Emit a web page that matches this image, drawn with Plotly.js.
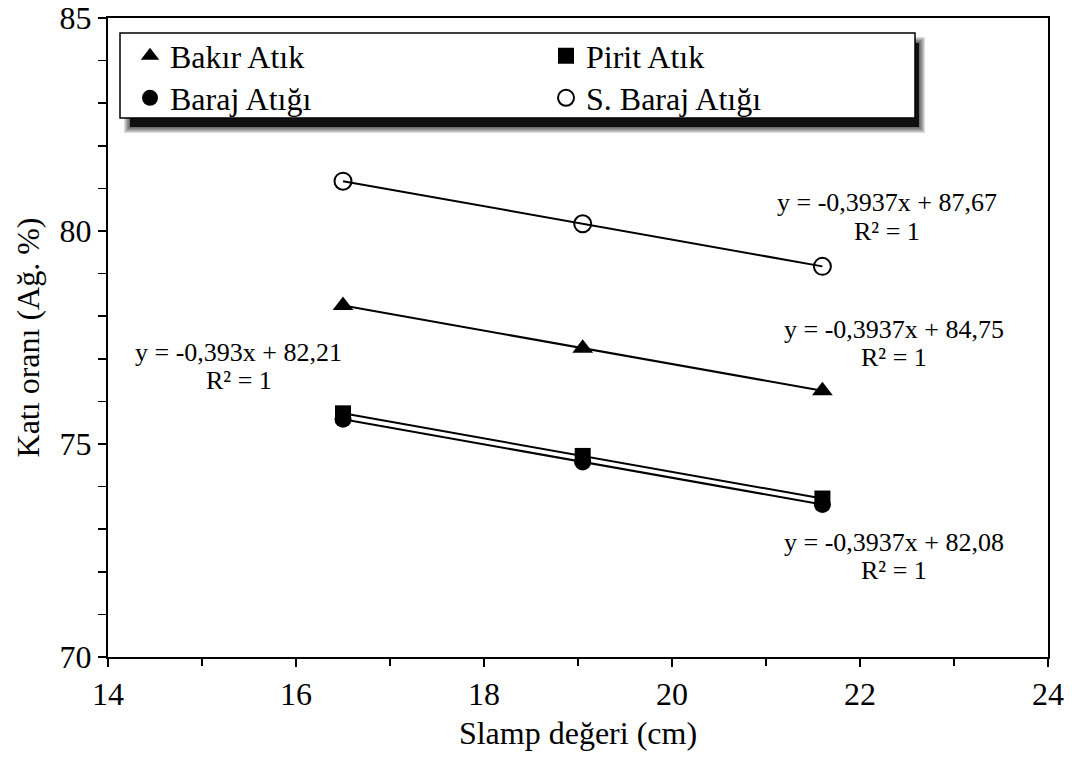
<!DOCTYPE html>
<html>
<head>
<meta charset="utf-8">
<script src="https://cdn.plot.ly/plotly-3.0.1.min.js"></script>
<style>html,body{margin:0;padding:0;background:#fff;}#chart{width:1072px;height:758px;}</style>
</head>
<body>
<div id="chart"></div>
<script>
var slump = [16.5, 19.05, 21.6];
var bakirAtik = [78.25, 77.25, 76.25];
var piritAtik = [75.72, 74.72, 73.72];
var barajAtigi = [75.58, 74.58, 73.58];
var sBarajAtigi = [81.17, 80.17, 79.17];
var seriesNames = ["Bakır Atık", "Pirit Atık", "Baraj Atığı", "S. Baraj Atığı"];
var eqLines = ["y = -0,3937x + 87,67", "y = -0,3937x + 84,75", "y = -0,393x + 82,21", "y = -0,3937x + 82,08"];
var r2Text = "R² = 1";
var xTickVals = [14, 16, 18, 20, 22, 24];
var yTickVals = [70, 75, 80, 85];

var W = 1072, H = 758, mL = 108, mR = 24, mT = 18, mB = 101;
var pw = W - mL - mR, ph = H - mT - mB;
function px(x){ return (x - mL) / pw; }
function py(y){ return 1 - (y - mT) / ph; }

var FONT = "Liberation Serif";
var tickFont = {family: FONT, size: 32, color: "#000"};
var lineStyle = {color: "#000", width: 2};

var seriesY = [bakirAtik, piritAtik, barajAtigi, sBarajAtigi];
var markers = [
  {symbol: "triangle-up", size: 18, color: "#000"},
  {symbol: "square", size: 16, color: "#000"},
  {symbol: "circle", size: 17, color: "#000"},
  {symbol: "circle-open", size: 17, color: "#000", line: {width: 2, color: "#000"}}
];
var legendIds = ["legend", "legend", "legend2", "legend2"];

var traces = [];
seriesY.forEach(function(ys, i){
  traces.push({x: slump, y: ys, mode: "lines", line: lineStyle, showlegend: false, hoverinfo: "skip"});
});
seriesY.forEach(function(ys, i){
  traces.push({x: slump, y: ys, name: seriesNames[i], mode: "markers", marker: markers[i], legend: legendIds[i]});
});

// legend box with soft shadow
var bx0 = 120, bx1 = 915, by0 = 33, by1 = 118;
var shapes = [];
for (var i = 6; i >= 1; i--) {
  shapes.push({type: "rect", xref: "paper", yref: "paper", layer: "above",
    x0: px(bx0 + 10 - i), x1: px(bx1 + 4 + i), y0: py(by1 + 9 + i), y1: py(by0 + 10 - i),
    fillcolor: "rgba(0,0,0,0.13)", line: {width: 0}});
}
shapes.push({type: "rect", xref: "paper", yref: "paper", layer: "above",
  x0: px(bx0 + 10), x1: px(bx1 + 4), y0: py(by1 + 9), y1: py(by0 + 10),
  fillcolor: "rgba(0,0,0,0.85)", line: {width: 0}});
shapes.push({type: "rect", xref: "paper", yref: "paper", layer: "above",
  x0: px(bx0), x1: px(bx1), y0: py(by1), y1: py(by0),
  fillcolor: "#fff", line: {color: "#000", width: 1.5}});

var annFont = {family: FONT, size: 26, color: "#000"};
var eqPos = [
  {x: 22.29, y1: 80.68, y2: 80.00},
  {x: 22.36, y1: 77.68, y2: 77.02},
  {x: 15.39, y1: 77.14, y2: 76.48},
  {x: 22.36, y1: 72.68, y2: 72.02}
];
var annotations = [];
eqPos.forEach(function(p, i){
  annotations.push({xref: "x", yref: "y", x: p.x, y: p.y1, text: eqLines[i], showarrow: false, font: annFont});
  annotations.push({xref: "x", yref: "y", x: p.x, y: p.y2, text: r2Text, showarrow: false, font: annFont});
});

var legendBase = {orientation: "h", xanchor: "left", yanchor: "middle", x: px(130),
  bgcolor: "rgba(0,0,0,0)", borderwidth: 0, entrywidth: 371, entrywidthmode: "pixels",
  font: {family: FONT, size: 32, color: "#000"}};

var layout = {
  width: W, height: H,
  margin: {l: mL, r: mR, t: mT, b: mB},
  paper_bgcolor: "#fff", plot_bgcolor: "#fff",
  font: {family: FONT, size: 32, color: "#000"},
  showlegend: true,
  legend: Object.assign({}, legendBase, {y: py(56)}),
  legend2: Object.assign({}, legendBase, {y: py(98)}),
  xaxis: {range: [14, 24], tickmode: "array", tickvals: xTickVals,
    showgrid: false, zeroline: false,
    showline: true, linecolor: "#000", linewidth: 2, mirror: true,
    ticks: "outside", ticklen: 8, tickwidth: 1.5, tickcolor: "#000", tickfont: tickFont,
    minor: {dtick: 1, ticks: "outside", ticklen: 7, tickwidth: 1.5, tickcolor: "#000"},
    title: {text: "Slamp değeri (cm)", font: {family: FONT, size: 32, color: "#000"}, standoff: 10}},
  yaxis: {range: [70, 85], tickmode: "array", tickvals: yTickVals,
    showgrid: false, zeroline: false,
    showline: true, linecolor: "#000", linewidth: 2, mirror: true,
    ticks: "outside", ticklen: 8, tickwidth: 1.5, tickcolor: "#000", tickfont: tickFont,
    minor: {dtick: 1, ticks: "outside", ticklen: 8, tickwidth: 1.5, tickcolor: "#000"},
    title: {text: "Katı oranı (Ağ. %)", font: {family: FONT, size: 32, color: "#000"}, standoff: 10}},
  shapes: shapes,
  annotations: annotations
};

Plotly.newPlot("chart", traces, layout, {displayModeBar: false, staticPlot: true});
</script>
</body>
</html>
